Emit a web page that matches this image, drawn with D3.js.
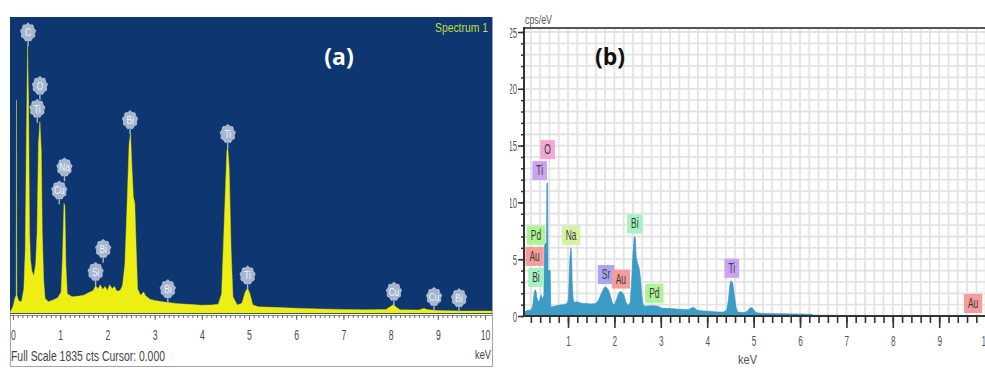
<!DOCTYPE html>
<html>
<head>
<meta charset="utf-8">
<script src="https://cdn.jsdelivr.net/npm/d3@7"></script>
<style>
  html, body { margin: 0; padding: 0; background: #fff; }
  svg { display: block; }
</style>
</head>
<body>
<svg id="chart" width="985" height="368"></svg>
<script>
// ---------- Spectrum (a): counts versus energy (keV) ----------
const specA = [
  [-0.07, 0], [0.0, 40], [0.04, 90], [0.066, 110], [0.074, 1320], [0.082, 110], [0.12, 75],
  [0.18, 70], [0.23, 150], [0.26, 400], [0.285, 1100], [0.31, 1660], [0.33, 1300],
  [0.35, 500], [0.37, 330], [0.40, 260], [0.44, 230], [0.48, 300], [0.51, 500],
  [0.54, 1050], [0.57, 1186], [0.60, 1000], [0.62, 500], [0.65, 200], [0.68, 90],
  [0.75, 70], [0.85, 80], [0.95, 95], [1.02, 130], [1.05, 350], [1.08, 680],
  [1.10, 660], [1.12, 300], [1.15, 120], [1.25, 100], [1.4, 105], [1.5, 110],
  [1.6, 125], [1.7, 140], [1.75, 170], [1.8, 150], [1.85, 175], [1.9, 145],
  [1.95, 165], [2.0, 140], [2.05, 175], [2.1, 150], [2.15, 165], [2.2, 135],
  [2.27, 140], [2.32, 170], [2.37, 300], [2.42, 700], [2.46, 1050], [2.49, 1116],
  [2.52, 900], [2.55, 720], [2.58, 680], [2.61, 400], [2.64, 150], [2.7, 110],
  [2.77, 130], [2.8, 110], [2.9, 85], [3.0, 78], [3.2, 68], [3.5, 58], [3.8, 52],
  [4.0, 48], [4.2, 50], [4.35, 55], [4.42, 120], [4.48, 600], [4.53, 1000],
  [4.55, 1030], [4.58, 900], [4.62, 400], [4.66, 100], [4.75, 50], [4.85, 60],
  [4.92, 130], [4.97, 153], [5.02, 120], [5.08, 50], [5.2, 38], [5.5, 35],
  [6.0, 30], [6.5, 25], [7.0, 22], [7.5, 20], [7.9, 22], [8.0, 40], [8.06, 52],
  [8.12, 35], [8.2, 20], [8.6, 18], [8.7, 28], [8.8, 20], [9.0, 15], [9.5, 12],
  [10.2, 12]
];
const labelsA = [
  ["C", 0.32], ["Ti", 0.515], ["O", 0.57], ["Cu", 0.98], ["Na", 1.09],
  ["Si", 1.75], ["Bi", 1.91], ["Bi", 2.48], ["Bi", 3.28], ["Ti", 4.55],
  ["Ti", 4.97], ["Cu", 8.07], ["Cu", 8.92], ["Bi", 9.45]
];
const ticksA = [0, 1, 2, 3, 4, 5, 6, 7, 8, 9, 10];
const fullScaleA = 1835;

// ---------- Spectrum (b): cps/eV versus energy (keV) ----------
const specB = [
  [0.05, 0.3], [0.12, 0.5], [0.2, 0.5], [0.24, 0.9], [0.27, 2.0], [0.29, 2.3],
  [0.31, 2.2], [0.33, 1.6], [0.36, 1.25], [0.39, 1.4], [0.42, 1.85], [0.45, 1.5],
  [0.48, 1.8], [0.49, 6.4], [0.535, 6.4], [0.545, 11.7], [0.56, 11.7], [0.57, 4.0],
  [0.615, 4.0], [0.63, 0.8], [0.7, 0.85], [0.8, 0.95], [0.9, 1.0], [0.98, 1.1],
  [1.01, 1.5], [1.04, 5.0], [1.06, 6.0], [1.075, 5.6], [1.09, 3.0], [1.11, 1.5],
  [1.13, 1.2], [1.2, 1.25], [1.3, 1.1], [1.4, 1.1], [1.5, 1.05], [1.6, 1.1],
  [1.66, 1.4], [1.72, 2.0], [1.78, 2.5], [1.82, 2.55], [1.87, 2.3], [1.92, 1.7],
  [1.96, 1.1], [2.0, 1.0], [2.05, 1.5], [2.1, 2.1], [2.15, 2.15], [2.2, 1.9],
  [2.25, 1.2], [2.3, 0.9], [2.34, 1.2], [2.37, 3.0], [2.4, 5.5], [2.43, 7.0],
  [2.45, 6.9], [2.47, 5.2], [2.5, 4.6], [2.53, 4.3], [2.56, 3.4], [2.59, 1.8],
  [2.62, 1.0], [2.66, 0.85], [2.75, 0.9], [2.85, 0.9], [2.95, 0.85], [3.0, 0.7],
  [3.2, 0.65], [3.4, 0.6], [3.6, 0.55], [3.65, 0.7], [3.72, 0.75], [3.78, 0.5],
  [3.9, 0.45], [4.05, 0.42], [4.2, 0.35], [4.35, 0.35], [4.42, 0.5], [4.46, 1.5],
  [4.49, 2.8], [4.51, 3.1], [4.55, 2.9], [4.58, 2.0], [4.62, 0.8], [4.66, 0.35],
  [4.8, 0.3], [4.87, 0.45], [4.92, 0.7], [4.96, 0.75], [5.0, 0.55], [5.05, 0.3],
  [5.2, 0.22], [5.6, 0.2], [6.0, 0.17], [6.25, 0.15], [6.3, 0.06], [6.8, 0.06],
  [6.85, 0], [10.2, 0]
];
const labelsB = [
  ["Bi", 0.31], ["Au", 0.28], ["Pd", 0.31], ["Ti", 0.39], ["O", 0.56],
  ["Na", 1.065], ["Sr", 1.82], ["Au", 2.14], ["Bi", 2.44], ["Pd", 2.86],
  ["Ti", 4.53], ["Au", 9.73]
];
const ticksBx = [1, 2, 3, 4, 5, 6, 7, 8, 9, 10];
const ticksBy = [0, 5, 10, 15, 20, 25];

// element tag colours for panel (b)
const tagColors = {
  Bi: "#a6f2c4", Au: "#f59c9c", Pd: "#b0f296", Ti: "#c9a4f2",
  O: "#f5a6d4", Na: "#d6f2a2", Sr: "#aaa6f2"
};

const FONT = "'Liberation Sans', Arial, sans-serif";
const svg = d3.select("#chart");
const defs = svg.append("defs");

// linear interpolation of a spectrum at energy e
function interp(spec, e) {
  for (let i = 1; i < spec.length; i++) {
    if (spec[i][0] >= e) {
      const [e0, v0] = spec[i - 1], [e1, v1] = spec[i];
      return v0 + (v1 - v0) * (e - e0) / (e1 - e0);
    }
  }
  return spec[spec.length - 1][1];
}
// highest value of the spectrum within +-w keV of e
function localMax(spec, e, w) {
  let m = interp(spec, e);
  spec.forEach(([k, v]) => { if (k >= e - w && k <= e + w && v > m) m = v; });
  return m;
}

// =================== Panel (a) ===================
const A = { left: 10, right: 492, top: 17, bottom: 314, frameBottom: 366, axisY: 315 };
const xA = d3.scaleLinear().domain([0, 10]).range([13, 485]);
const yA = d3.scaleLinear().domain([0, fullScaleA]).range([313, 17]);
const gA = svg.append("g");

gA.append("rect")
  .attr("x", A.left + 0.5).attr("y", A.top + 0.5)
  .attr("width", A.right - A.left).attr("height", A.frameBottom - A.top)
  .attr("fill", "#fff").attr("stroke", "#a4a4a4");
gA.append("rect")
  .attr("x", A.left).attr("y", A.top)
  .attr("width", A.right - A.left).attr("height", A.bottom - A.top)
  .attr("fill", "#0e3771");

defs.append("clipPath").attr("id", "clipA").append("rect")
  .attr("x", A.left).attr("y", A.top)
  .attr("width", A.right - A.left).attr("height", A.bottom - A.top);

gA.append("path")
  .datum(specA)
  .attr("clip-path", "url(#clipA)")
  .attr("d", d3.area().x(d => xA(d[0])).y0(yA(0)).y1(d => yA(d[1])))
  .attr("fill", "#eeee14").attr("stroke", "#eeee14")
  .attr("stroke-width", 0.4).attr("stroke-linejoin", "round");

// energy axis of (a)
gA.append("line")
  .attr("x1", A.left).attr("x2", A.right)
  .attr("y1", A.axisY + 0.5).attr("y2", A.axisY + 0.5)
  .attr("stroke", "#8a8a8a");
const axA1 = gA.append("g").attr("transform", `translate(0,${A.axisY})`)
  .call(d3.axisBottom(xA).tickValues(d3.range(0, 101).map(i => i / 10))
    .tickSize(3).tickSizeOuter(0).tickFormat(""));
axA1.select(".domain").remove();
axA1.selectAll(".tick line").attr("stroke", "#6a6a6a");
const axA2 = gA.append("g").attr("transform", `translate(0,${A.axisY})`)
  .call(d3.axisBottom(xA).tickValues(ticksA).tickSize(5).tickSizeOuter(0).tickFormat(d3.format("d")));
axA2.select(".domain").remove();
axA2.selectAll(".tick line").attr("stroke", "#6a6a6a");
axA2.selectAll(".tick text")
  .attr("y", 25).attr("dy", null)
  .attr("font-size", 14).attr("font-family", FONT).attr("fill", "#4a4a4a")
  .attr("transform", "scale(0.62,1)");

gA.append("text")
  .attr("x", 11).attr("y", 361)
  .attr("font-family", FONT).attr("font-size", 14).attr("fill", "#444")
  .attr("textLength", 154).attr("lengthAdjust", "spacingAndGlyphs")
  .text("Full Scale 1835 cts Cursor: 0.000");
gA.append("text")
  .attr("x", 475).attr("y", 359)
  .attr("font-family", FONT).attr("font-size", 13).attr("fill", "#444")
  .attr("textLength", 16).attr("lengthAdjust", "spacingAndGlyphs")
  .text("keV");

gA.append("text")
  .attr("x", 488).attr("y", 32).attr("text-anchor", "end")
  .attr("font-family", FONT).attr("font-size", 12.5).attr("fill", "#c4dc3c")
  .attr("textLength", 53).attr("lengthAdjust", "spacingAndGlyphs")
  .text("Spectrum 1");
gA.append("text")
  .attr("x", 339).attr("y", 65).attr("text-anchor", "middle")
  .attr("font-family", "'Open Sans', " + FONT).attr("font-weight", 700)
  .attr("font-size", 23).attr("fill", "#fff")
  .text("(a)");

// element badges of (a): placed above the local peak, stacked when they collide
const placedA = [];
labelsA.forEach(([el, e]) => {
  const cx = xA(e);
  let cy = yA(localMax(specA, e, 0.17)) - 13;
  let moved = true;
  while (moved) {
    moved = false;
    for (const p of placedA) {
      if (Math.abs(p.cx - cx) < 14 && Math.abs(p.cy - cy) < 22) { cy = p.cy - 23; moved = true; }
    }
  }
  placedA.push({ el, cx, cy });
});
const gear = d3.lineRadial()
  .angle((d, i) => i * 2 * Math.PI / 18)
  .radius((d, i) => (i % 2 ? 6.6 : 7.7))
  .curve(d3.curveCardinalClosed);
const badges = gA.append("g").selectAll("g").data(placedA).join("g");
badges.append("line")
  .attr("x1", d => d.cx).attr("x2", d => d.cx)
  .attr("y1", d => d.cy + 8).attr("y2", d => d.cy + 14)
  .attr("stroke", "#a6b6cf").attr("stroke-width", 1.4);
badges.append("path")
  .attr("d", gear(d3.range(18)))
  .attr("transform", d => `translate(${d.cx},${d.cy}) scale(1,1.2)`)
  .attr("fill", "#a6b6cf").attr("stroke", "#c9d3e3").attr("stroke-width", 0.6);
badges.append("text")
  .attr("transform", d => `translate(${d.cx},${d.cy + 4}) scale(0.75,1)`)
  .attr("text-anchor", "middle")
  .attr("font-family", FONT).attr("font-size", 11).attr("fill", "#f2f5fa")
  .text(d => d.el);

// =================== Panel (b) ===================
const B = { left: 524, right: 985, top: 28, bottom: 316, clipLeft: 510 };
const xB = d3.scaleLinear().domain([0, 10]).range([521.6, 985.6]);
const yB = d3.scaleLinear().domain([0, 25]).range([316, 32]);

defs.append("clipPath").attr("id", "clipB").append("rect")
  .attr("x", B.clipLeft).attr("y", 0).attr("width", 985 - B.clipLeft).attr("height", 368);
const gB = svg.append("g").attr("clip-path", "url(#clipB)");

// grid
const gridX = d3.range(1, 52).map(i => i * 0.2).filter(v => xB(v) > B.left + 1);
const gridY = d3.range(1, 26);
gB.append("g").selectAll("line").data(gridX).join("line")
  .attr("x1", d => xB(d)).attr("x2", d => xB(d))
  .attr("y1", B.top).attr("y2", B.bottom)
  .attr("stroke", "#e3e3e3").attr("stroke-width", 1.8);
gB.append("g").selectAll("line").data(gridY).join("line")
  .attr("x1", B.left).attr("x2", B.right)
  .attr("y1", d => yB(d)).attr("y2", d => yB(d))
  .attr("stroke", "#e3e3e3").attr("stroke-width", 1.8);

// spectrum
gB.append("path")
  .datum(specB)
  .attr("d", d3.area().x(d => xB(d[0])).y0(yB(0)).y1(d => yB(d[1])))
  .attr("fill", "#3b9cc6").attr("stroke", "#3592bd")
  .attr("stroke-width", 0.6).attr("stroke-linejoin", "round");

// frame lines
gB.append("line")
  .attr("x1", B.left).attr("x2", B.right).attr("y1", B.top).attr("y2", B.top)
  .attr("stroke", "#555").attr("stroke-width", 2);
gB.append("line")
  .attr("x1", B.left).attr("x2", B.left).attr("y1", B.top - 1).attr("y2", B.bottom + 1)
  .attr("stroke", "#333").attr("stroke-width", 2);
gB.append("line")
  .attr("x1", B.left).attr("x2", B.right).attr("y1", B.bottom).attr("y2", B.bottom)
  .attr("stroke", "#333").attr("stroke-width", 2);

// y axis
const ayB1 = gB.append("g").attr("transform", `translate(${B.left},0)`)
  .call(d3.axisLeft(yB).tickValues(d3.range(0, 26)).tickSize(3).tickSizeOuter(0).tickFormat(""));
ayB1.select(".domain").remove();
ayB1.selectAll(".tick line").attr("stroke", "#333").attr("stroke-width", 1.5);
const ayB2 = gB.append("g").attr("transform", `translate(${B.left},0)`)
  .call(d3.axisLeft(yB).tickValues(ticksBy).tickSize(6).tickSizeOuter(0).tickFormat(d3.format("d")));
ayB2.select(".domain").remove();
ayB2.selectAll(".tick line").attr("stroke", "#333").attr("stroke-width", 1.5);
ayB2.selectAll(".tick text")
  .attr("x", 0).attr("dy", "0.36em")
  .attr("transform", "translate(-7,0) scale(0.55,1)")
  .attr("font-size", 14).attr("font-family", FONT).attr("fill", "#555");

// x axis
const axB1 = gB.append("g").attr("transform", `translate(0,${B.bottom})`)
  .call(d3.axisBottom(xB).tickValues(gridX).tickSize(7).tickSizeOuter(0).tickFormat(""));
axB1.select(".domain").remove();
axB1.selectAll(".tick line").attr("stroke", "#333").attr("stroke-width", 1.6);
const axB2 = gB.append("g").attr("transform", `translate(0,${B.bottom})`)
  .call(d3.axisBottom(xB).tickValues(ticksBx).tickSize(12).tickSizeOuter(0).tickFormat(d3.format("d")));
axB2.select(".domain").remove();
axB2.selectAll(".tick line").attr("stroke", "#333").attr("stroke-width", 1.6);
axB2.selectAll(".tick text")
  .attr("y", 30).attr("dy", null)
  .attr("transform", "scale(0.55,1)")
  .attr("font-size", 15).attr("font-family", FONT).attr("fill", "#555");

gB.append("text")
  .attr("x", 525).attr("y", 24)
  .attr("font-family", FONT).attr("font-size", 12).attr("fill", "#555")
  .attr("textLength", 27).attr("lengthAdjust", "spacingAndGlyphs")
  .text("cps/eV");
gB.append("text")
  .attr("x", 738).attr("y", 364)
  .attr("font-family", FONT).attr("font-size", 13).attr("fill", "#555")
  .attr("textLength", 19).attr("lengthAdjust", "spacingAndGlyphs")
  .text("keV");
gB.append("text")
  .attr("x", 610).attr("y", 65).attr("text-anchor", "middle")
  .attr("font-family", "'Open Sans', " + FONT).attr("font-weight", 700)
  .attr("font-size", 23).attr("fill", "#111")
  .text("(b)");

// element tags of (b): boxes sitting on the local peak, stacked when they collide
const tagLayer = gB.append("g");
const placedB = [];
const TAG_H = 19, TAG_SX = 0.6;
labelsB.forEach(([el, e]) => {
  const g = tagLayer.append("g");
  const rect = g.append("rect");
  const txt = g.append("text")
    .attr("font-family", FONT).attr("font-size", 14).attr("fill", "#3a3a3a")
    .attr("text-anchor", "middle").text(el);
  const w = txt.node().getComputedTextLength() * TAG_SX + 8;
  const cx = xB(e);
  const left = cx - w / 2, right = cx + w / 2;
  let bottom = yB(localMax(specB, e, 0.17)) - 3;
  let moved = true;
  while (moved) {
    moved = false;
    for (const p of placedB) {
      const hOver = Math.min(right, p.right) - Math.max(left, p.left);
      if (hOver > 4 && bottom > p.top && bottom - TAG_H < p.bottom) { bottom = p.top - 2; moved = true; }
    }
  }
  placedB.push({ left, right, top: bottom - TAG_H, bottom });
  rect.attr("x", left).attr("y", bottom - TAG_H).attr("width", w).attr("height", TAG_H)
    .attr("fill", tagColors[el]);
  txt.attr("transform", `translate(${cx},${bottom - 5}) scale(${TAG_SX},1)`);
});
</script>
</body>
</html>
